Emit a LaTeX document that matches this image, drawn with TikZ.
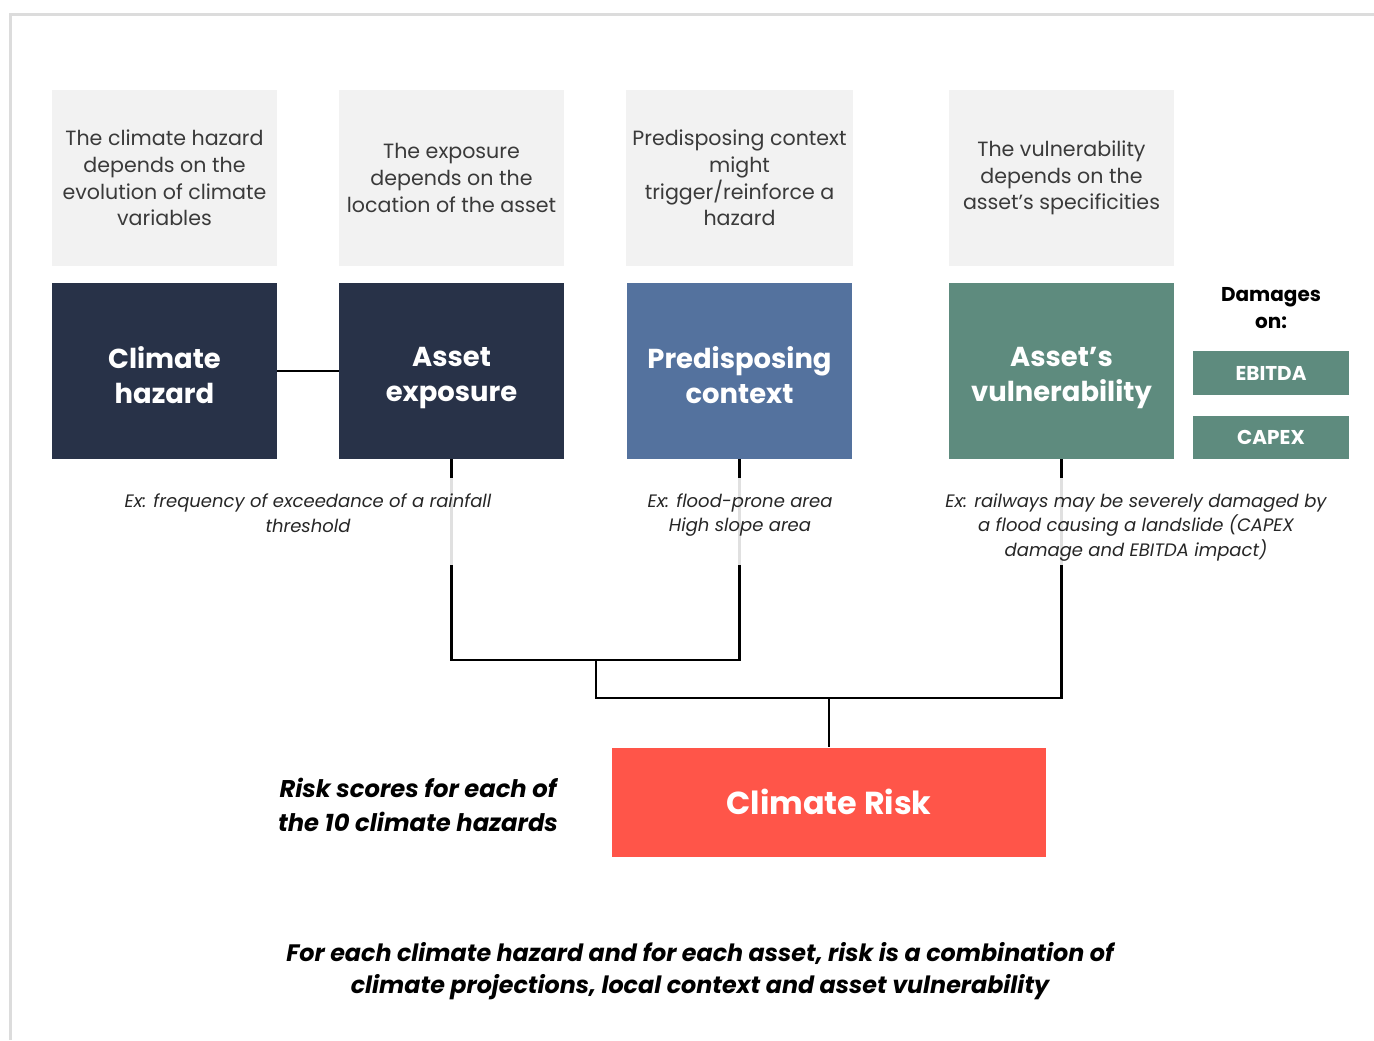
\documentclass[tikz,border=0pt]{standalone}
\usepackage{fontspec}
\setmainfont{Poppins}
\definecolor{notegray}{HTML}{F2F2F2}
\definecolor{notetext}{HTML}{3A3A3A}
\definecolor{hazardnavy}{HTML}{283248}
\definecolor{contextblue}{HTML}{54729E}
\definecolor{vulngreen}{HTML}{5E8B7E}
\definecolor{riskred}{HTML}{FF5549}
\definecolor{framegray}{HTML}{DCDCDC}
\begin{document}
\begin{tikzpicture}[x=0.5pt,y=-0.5pt,
    note/.style={fill=notegray,text=notetext,minimum width=112.5pt,minimum height=88pt,
      align=center,font=\fontsize{10.3}{13.3}\selectfont},
    factor/.style={fill=#1,minimum width=112.5pt,minimum height=88pt},
    title/.style={align=center,text=white,yshift=-4.5pt,
      font=\bfseries\fontsize{13.7}{17.5}\selectfont,
      execute at begin node=\strut,execute at end node=\strut},
    damage/.style={fill=vulngreen,text=white,minimum width=78pt,minimum height=21.8pt,
      font=\bfseries\fontsize{10}{12}\selectfont},
    example/.style={align=center,text=black!85,font=\itshape\fontsize{9}{12.3}\selectfont},
    link/.style={line width=1.25pt,black}]
  \useasboundingbox (0,0) rectangle (1374,1040);
  \draw[framegray,line width=1.5pt] (10.5,1040) -- (10.5,14.5) -- (1374,14.5);

  % top notes
  \draw (164.5,178) node[note] (n1) {The climate hazard\\depends on the\\evolution of climate\\variables};
  \draw (451.5,178) node[note] (n2) {The exposure\\depends on the\\location of the asset};
  \draw (739.5,178) node[note] (n3) {Predisposing context\\might\\trigger/reinforce a\\hazard};
  \draw (1061.5,178) node[note] (n4) {The vulnerability\\depends on the\\asset’s specificities};

  % factors
  \draw (164.5,371) node[factor=hazardnavy,label={[title]center:Climate\\hazard}] (hazard) {};
  \draw (451.5,371) node[factor=hazardnavy,label={[title]center:Asset\\exposure}] (exposure) {};
  \draw (739.5,371) node[factor=contextblue,label={[title]center:Predisposing\\context}] (context) {};
  \draw (1061.5,371) node[factor=vulngreen,label={[title]center:Asset’s\\vulnerability}] (vuln) {};

  \draw (1271,308) node[align=center,font=\bfseries\fontsize{10}{13.5}\selectfont] (dmg) {Damages\\on:};
  \draw (1271,373) node[damage] (ebitda) {EBITDA};
  \draw (1271,437.5) node[damage] (capex) {CAPEX};

  % risk
  \draw (829,802) node[fill=riskred,text=white,minimum width=217pt,minimum height=54.5pt,
    font=\bfseries\fontsize{15.9}{19}\selectfont] (risk) {Climate Risk};

  \coordinate (jA) at (596,660);
  \coordinate (jB) at (596,698);
  \draw[link] (hazard) -- (exposure);
  \draw[link] (exposure.south) -- (exposure.south |- jA) -- (context.south |- jA) -- (context.south);
  \draw[link] (jA) -- (jB) -- (vuln.south |- jB) -- (vuln.south);
  \draw[link] (risk.north |- jB) -- (risk.north);

  % examples over the links
  \fill[white,opacity=0.88] (100,478) rectangle (1350,565);
  \draw (308,513) node[example] (ex1) {Ex: frequency of exceedance of a rainfall\\threshold};
  \draw (740,515) node[example] (ex2) {Ex: flood-prone area\\High slope area};
  \draw (1136,527.5) node[example] (ex3) {Ex: railways may be severely damaged by\\a flood causing a landslide (CAPEX\\damage and EBITDA impact)};

  \draw (418,805) node[align=center,font=\bfseries\itshape\fontsize{12.1}{17}\selectfont] (scores)
    {Risk scores for each of\\the 10 climate hazards};
  \draw (700,971) node[align=center,font=\bfseries\itshape\fontsize{11.9}{16}\selectfont] (summary)
    {For each climate hazard and for each asset, risk is a combination of\\climate projections, local context and asset vulnerability};
\end{tikzpicture}
\end{document}
